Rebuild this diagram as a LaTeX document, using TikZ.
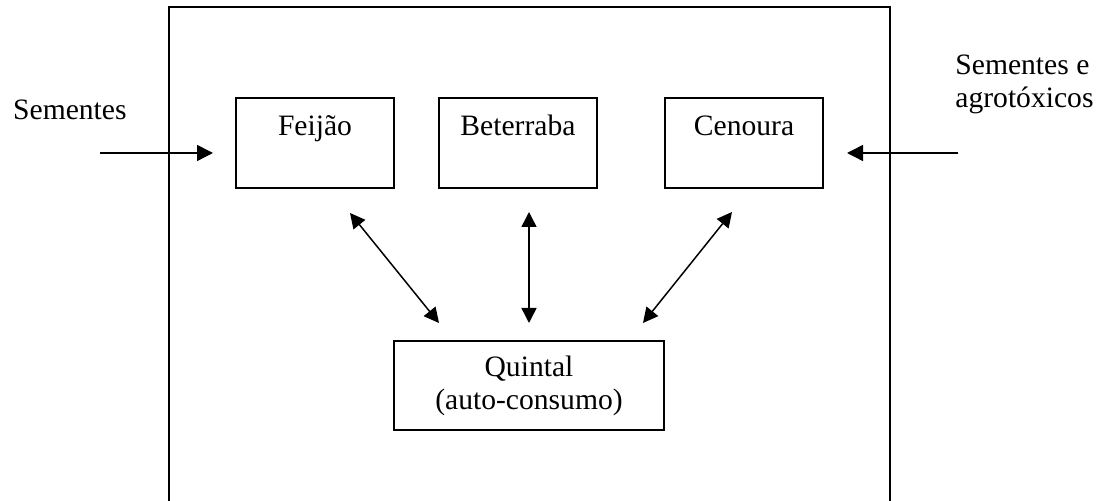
\documentclass[tikz,border=0pt]{standalone}
\usepackage{fontspec}
\setmainfont{Liberation Serif}
\usetikzlibrary{arrows.meta}
\begin{document}
\begin{tikzpicture}[x=0.5pt,y=-0.5pt,
  every node/.style={font=\fontsize{14.8pt}{16.5pt}\selectfont},
  cropbox/.style={draw,line width=1pt,inner sep=0pt,minimum width=79pt,text height=19pt,text depth=26pt},
  frameline/.style={line width=1pt},
  flow/.style={line width=0.75pt,-{Triangle[length=8pt,width=8pt]}},
  twoway/.style={line width=0.75pt,{Triangle[length=7.5pt,width=7.5pt]}-{Triangle[length=7.5pt,width=7.5pt]}}]
\useasboundingbox (0,0) rectangle (1103,501);
% outer frame (open at bottom)
\draw[frameline] (168.5,520) |- (890,7.5) -- (890,520);
% crop boxes
\node[cropbox,anchor=base] (feijao) at (315,136) {Feijão};
\node[cropbox,anchor=base] (beterraba) at (518,136) {Beterraba};
\node[cropbox,anchor=base] (cenoura) at (744,136) {Cenoura};
% quintal
\node[draw,line width=1pt,minimum width=135pt,minimum height=44.5pt,align=center,inner sep=0pt] (quintal) at (529,385.5) {Quintal\\(auto-consumo)};
% inputs
\node[anchor=base east,inner sep=0pt] (sem) at (127,120) {Sementes};
\node[anchor=north west,inner sep=0pt,align=left] (semagro) at (955,55) {Sementes e\\agrotóxicos};
\coordinate (inL) at (100,153);
\coordinate (tipL) at (213,153);
\coordinate (inR) at (958,153);
\coordinate (tipR) at (847,153);
\draw[flow] (inL) -- (tipL);
\draw[flow] (inR) -- (tipR);
% two-way arrows
\coordinate (a1) at (350,213); \coordinate (b1) at (439,323);
\coordinate (a2) at (529,212); \coordinate (b2) at (529,323);
\coordinate (a3) at (732,212); \coordinate (b3) at (643,323);
\draw[twoway] (a1) -- (b1);
\draw[twoway] (a2) -- (b2);
\draw[twoway] (a3) -- (b3);
\end{tikzpicture}
\end{document}
